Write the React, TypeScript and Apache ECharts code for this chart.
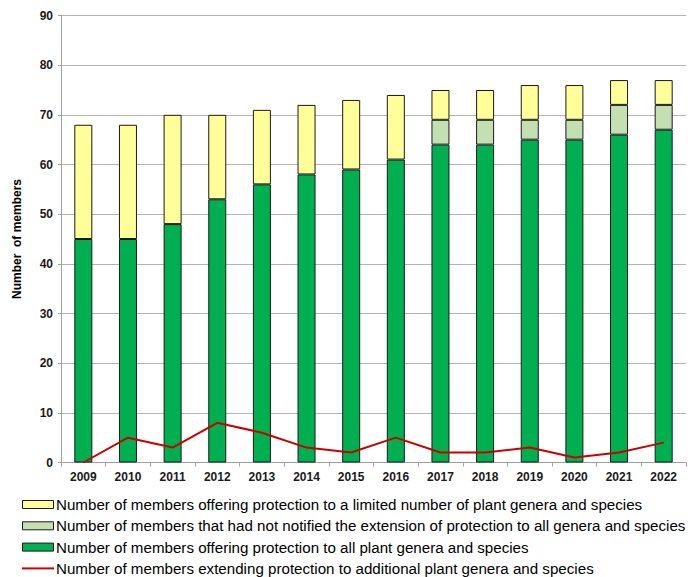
import React, { useEffect, useRef } from "react";
import * as echarts from "echarts";

const years = ["2009", "2010", "2011", "2012", "2013", "2014", "2015", "2016", "2017", "2018", "2019", "2020", "2021", "2022"];
const allGenera = [45, 45, 48, 53, 56, 58, 59, 61, 64, 64, 65, 65, 66, 67];
const notNotified = [null, null, null, null, null, null, null, null, 5, 5, 4, 4, 6, 5];
const limited = [23, 23, 22, 17, 15, 14, 14, 13, 6, 6, 7, 7, 5, 5];
const extending = [0, 5, 3, 8, 6, 3, 2, 5, 2, 2, 3, 1, 2, 4];

const nameLimited = "Number of members offering protection to a limited number of plant genera and species";
const nameNotNotified = "Number of members that had not notified the extension of protection to all genera and species";
const nameAll = "Number of members offering protection to all plant genera and species";
const nameExtending = "Number of members extending protection to additional plant genera and species";

const colAll = "#00b050";
const colNot = "#c4e0b2";
const colLim = "#ffff99";
const colExt = "#cc0000";

export default function App() {
  const ref = useRef<HTMLDivElement>(null);
  useEffect(() => {
    if (!ref.current) return;
    const chart = echarts.init(ref.current, undefined, { renderer: "svg" });
    const font = "'Liberation Sans', Arial, sans-serif";
    const barBorder = { borderColor: "#1a1a1a", borderWidth: 1 };

    const legendItems = [
      { name: nameLimited, color: colLim, kind: "rect" },
      { name: nameNotNotified, color: colNot, kind: "rect" },
      { name: nameAll, color: colAll, kind: "rect" },
      { name: nameExtending, color: colExt, kind: "line" },
    ];
    const legendTop = 504.5;
    const legendStep = 21.3;
    const legendGraphics: any[] = [];
    legendItems.forEach((it, i) => {
      const cy = legendTop + i * legendStep;
      if (it.kind === "rect") {
        legendGraphics.push({
          type: "rect",
          shape: { x: 22.5, y: cy - 4, width: 31, height: 8 },
          style: { fill: it.color, stroke: "#1a1a1a", lineWidth: 1 },
        });
      } else {
        legendGraphics.push({
          type: "line",
          shape: { x1: 22, y1: cy, x2: 54, y2: cy },
          style: { stroke: it.color, lineWidth: 2 },
        });
      }
      legendGraphics.push({
        type: "text",
        x: 56,
        y: cy,
        scaleX: 1.01,
        style: {
          text: it.name,
          x: 0,
          y: 0,
          fontFamily: font,
          fontSize: 15,
          fill: "#000",
          verticalAlign: "middle",
          align: "left",
        },
      });
    });

    chart.setOption({
      animation: false,
      grid: { left: 61, right: 5, top: 15.5, bottom: 114.5, containLabel: false },
      graphic: legendGraphics,
      xAxis: {
        type: "category",
        data: years,
        axisLine: { lineStyle: { color: "#a0a0a0", width: 1 } },
        axisTick: { show: true, length: 4, lineStyle: { color: "#a0a0a0" } },
        axisLabel: { fontFamily: font, fontWeight: "bold", fontSize: 12, color: "#1a1a1a", margin: 8 },
      },
      yAxis: {
        type: "value",
        min: 0,
        max: 90,
        interval: 10,
        name: "Number  of members",
        nameLocation: "middle",
        nameGap: 38,
        nameTextStyle: { fontFamily: font, fontWeight: "bold", fontSize: 12, color: "#000" },
        axisLine: { show: true, lineStyle: { color: "#a0a0a0", width: 1 } },
        axisTick: { show: true, length: 3, lineStyle: { color: "#a0a0a0" } },
        axisLabel: { fontFamily: font, fontWeight: "bold", fontSize: 12, color: "#1a1a1a", margin: 8 },
        splitLine: { show: true, lineStyle: { color: "#b4b4b4", width: 1 } },
      },
      series: [
        {
          name: nameAll,
          type: "bar",
          stack: "total",
          barWidth: 18,
          data: allGenera,
          itemStyle: { color: colAll, ...barBorder },
        },
        {
          name: nameNotNotified,
          type: "bar",
          stack: "total",
          barWidth: 18,
          data: notNotified,
          itemStyle: { color: colNot, ...barBorder },
        },
        {
          name: nameLimited,
          type: "bar",
          stack: "total",
          barWidth: 18,
          data: limited,
          itemStyle: { color: colLim, ...barBorder },
        },
        {
          name: nameExtending,
          type: "line",
          data: extending,
          symbol: "none",
          z: 5,
          lineStyle: { color: colExt, width: 2 },
          itemStyle: { color: colExt },
        },
      ],
    });
    return () => chart.dispose();
  }, []);
  return (
    <div
      ref={ref}
      style={{ position: "fixed", left: 0, top: 0, width: 691, height: 577, background: "#fff" }}
    />
  );
}
